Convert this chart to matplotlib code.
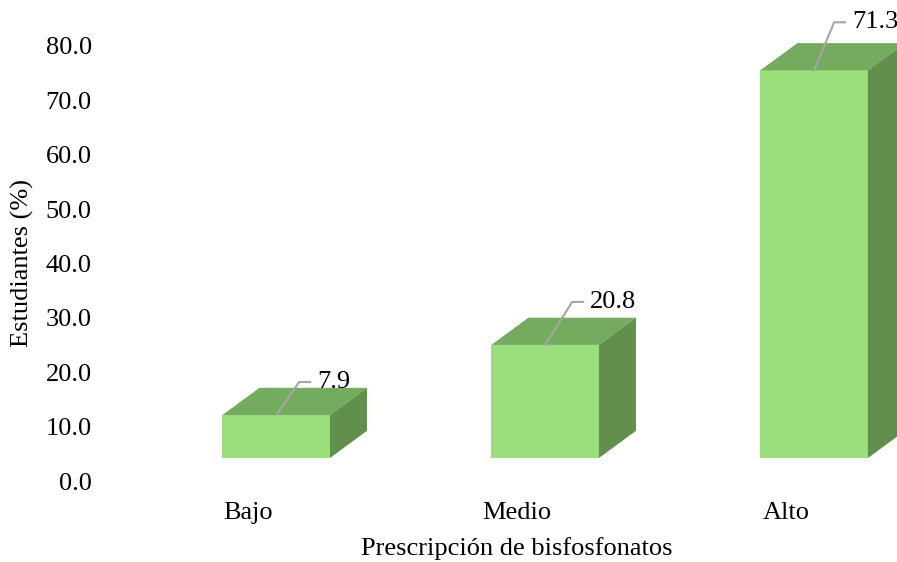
import numpy as np
import matplotlib
matplotlib.use("Agg")
import matplotlib.pyplot as plt

plt.rcParams["font.family"] = ["Liberation Serif", "DejaVu Serif"]
plt.rcParams["font.size"] = 19

categories = ["Bajo", "Medio", "Alto"]
values = [7.9, 20.8, 71.3]
y_ticks = [0, 10, 20, 30, 40, 50, 60, 70, 80]

# colours of the three visible faces of each box
front_col = "#9ADF7C"
top_col = "#74AB5E"
side_col = "#628F4D"

fig = plt.figure(figsize=(8.97, 5.62), dpi=100)
ax = fig.add_axes([100 / 897, 81 / 562, 797 / 897, 435 / 562])
ax.set_ylim(0, 80)
ax.set_xlim(-0.550, 2.413)

# pseudo-3D boxes: front face raised off the floor, with depth up and to the right
base = 4.23
left_off, width = -0.095, 0.40
depth_x, depth_y = 0.1375, 5.0
label_dx = [23, 27, 20]  # leader run in pixels
label_dy = [33, 43, 48]  # leader rise in pixels

for i, v in enumerate(values):
    x0 = i + left_off
    x1 = x0 + width
    y0, y1 = base, base + v
    ax.fill([x0, x1, x1, x0], [y0, y0, y1, y1], color=front_col, lw=0, clip_on=False, zorder=3)
    ax.fill([x0, x1, x1 + depth_x, x0 + depth_x], [y1, y1, y1 + depth_y, y1 + depth_y],
            color=top_col, lw=0, clip_on=False, zorder=3)
    ax.fill([x1, x1 + depth_x, x1 + depth_x, x1], [y0, y0 + depth_y, y1 + depth_y, y1],
            color=side_col, lw=0, clip_on=False, zorder=3)

    # value label with an elbow leader line
    cx = x0 + width / 2
    p0 = ax.transData.transform((cx, y1))
    inv = ax.transData.inverted()
    dx, dy = label_dx[i], label_dy[i]
    ex, ey = inv.transform(p0 + np.array([dx, dy]))
    hx, _ = inv.transform(p0 + np.array([dx + 11, dy]))
    tx, _ = inv.transform(p0 + np.array([dx + 18, dy]))
    ax.plot([cx, ex, hx], [y1, ey, ey], color="#A6A6A6", lw=1.5, clip_on=False, zorder=4)
    ax.text(tx, ey, f"{v:.1f}", ha="left", va="center", fontsize=19, clip_on=False, zorder=5)

ax.set_yticks(y_ticks)
ax.set_yticklabels([f"{t:.1f}" for t in y_ticks])
ax.set_xticks(range(len(categories)))
ax.set_xticklabels(categories)
ax.tick_params(axis="y", length=0, pad=6)
ax.tick_params(axis="x", length=0, pad=15)
for s in ax.spines.values():
    s.set_visible(False)

fig.text(517 / 897, 1 - 549 / 562, "Prescripción de bisfosfonatos", ha="center", va="center", fontsize=19)
fig.text(22 / 897, 1 - 263 / 562, "Estudiantes (%)", ha="center", va="center", rotation=90, fontsize=19)

fig.savefig("out.png", dpi=100)
